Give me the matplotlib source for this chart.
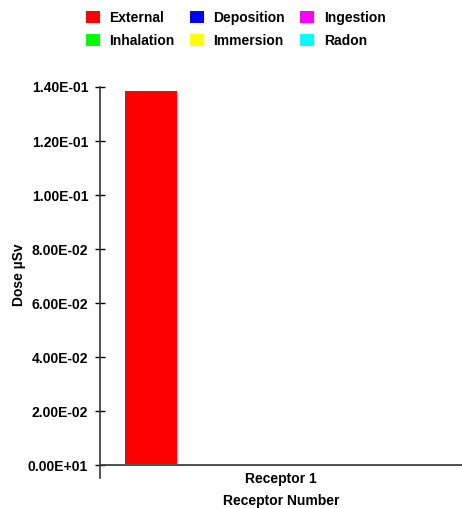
import numpy as np
import matplotlib
matplotlib.use('Agg')
import matplotlib.pyplot as plt
from matplotlib.patches import Patch

plt.rcParams['font.family'] = ['Liberation Sans', 'DejaVu Sans']
plt.rcParams['font.weight'] = 'bold'

receptors = ['Receptor 1']
pathways = ['External', 'Deposition', 'Ingestion', 'Inhalation', 'Immersion', 'Radon']
colors = ['#ff0000', '#0000ff', '#ff00ff', '#00ff00', '#ffff00', '#00ffff']
doses = {
    'External': [0.138],
    'Deposition': [0.0],
    'Ingestion': [0.0],
    'Inhalation': [0.0],
    'Immersion': [0.0],
    'Radon': [0.0],
}
yticks = [0.0, 0.02, 0.04, 0.06, 0.08, 0.10, 0.12, 0.14]
ytick_labels = ['0.00E+01', '2.00E-02', '4.00E-02', '6.00E-02', '8.00E-02',
                '1.00E-01', '1.20E-01', '1.40E-01']

fig = plt.figure(figsize=(4.62, 5.08), dpi=100)
ax = fig.add_axes([100/462, 1-478/508, 362/462, (478-87)/508])

x = np.arange(len(receptors))
bw = 0.1436
for i, p in enumerate(pathways):
    vals = np.array(doses[p])
    ax.bar(x - 2.5*bw + i*bw, vals, bw, bottom=0.0005, color=colors[i],
           linewidth=0)

ax.set_xlim(-0.5, 0.5)
ax.set_ylim(-0.0048, 0.14)
ax.axhline(0, color='#333333', lw=1.2, zorder=5)
for s in ['top', 'right', 'bottom']:
    ax.spines[s].set_visible(False)
ax.spines['left'].set_color('#333333')
ax.spines['left'].set_linewidth(1.2)

ax.set_yticks(yticks)
ax.set_yticklabels(ytick_labels)
ax.tick_params(axis='y', direction='inout', length=7, width=1, labelsize=10, pad=5)
ax.set_xticks(x)
ax.set_xticklabels(receptors)
ax.tick_params(axis='x', length=0, labelsize=10, pad=-4)
ax.set_xlabel('Receptor Number', fontsize=10, fontweight='bold', va='center')
ax.xaxis.set_label_coords(0.5, (478-501)/391)
ax.set_ylabel('Dose µSv', fontsize=10, fontweight='bold', va='center')
ax.yaxis.set_label_coords((19-100)/362, (478-274.5)/391)

# legend laid out row-wise like the original
order = [0, 3, 1, 4, 2, 5]
handles = [Patch(facecolor=colors[k], edgecolor='none') for k in order]
labels = [pathways[k] for k in order]
fig.legend(handles, labels, ncol=3, loc='upper left', bbox_to_anchor=(76/462, 1 - 1/508),
           frameon=False, fontsize=10, handlelength=1.0, handleheight=1.0,
           handletextpad=0.7, columnspacing=1.1, labelspacing=0.65,
           borderaxespad=0.3)

fig.savefig('out.png', dpi=100)
